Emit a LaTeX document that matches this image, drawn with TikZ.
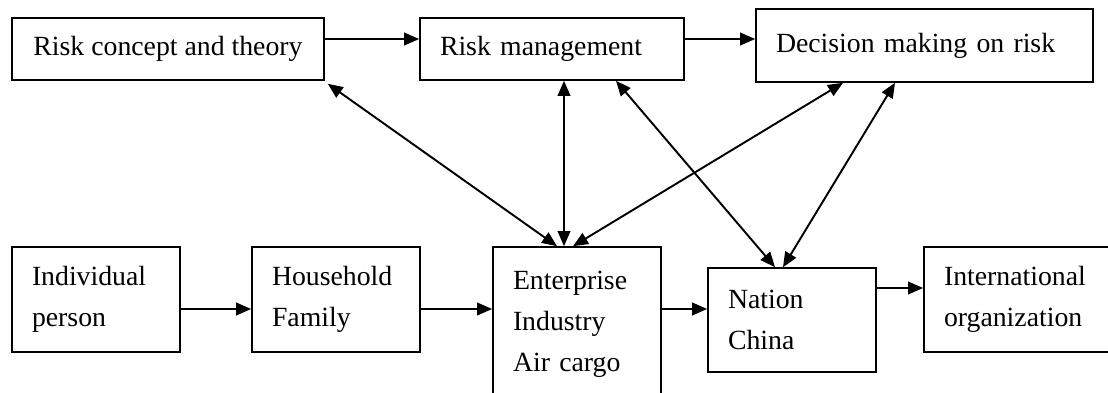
\documentclass[tikz,border=0pt]{standalone}
\usepackage{fontspec}
\setmainfont{Liberation Serif}
\usetikzlibrary{arrows.meta}

\begin{document}
\begin{tikzpicture}[
  box/.style={draw, line width=0.9pt, inner xsep=0.4cm, inner ysep=0pt, align=left,
    font=\fontsize{15.8}{23.3}\selectfont},
  link/.style={line width=1.1pt, -{Triangle[length=0.3cm,width=0.25cm]}},
  twoway/.style={line width=1.1pt, {Triangle[length=0.3cm,width=0.25cm]}-{Triangle[length=0.3cm,width=0.25cm]}}
]
% Frame
\useasboundingbox (0,0) rectangle (22.16,7.84);
\clip (0,0) rectangle (22.16,7.84);

% Risk topics (top row)
\node[box, minimum width=6.24cm, minimum height=1.24cm] (concept) at (3.36,6.86) {Risk concept and theory};
\node[box, text width=4.48cm, minimum height=1.24cm] (manage) at (11.04,6.86) {Risk management};
\node[box, text width=5.94cm, minimum height=1.46cm] (decide) at (18.49,6.93) {Decision making on risk};

% Levels (bottom row)
\node[box, text width=2.56cm, minimum height=2.1cm] (person) at (1.92,1.85) {Individual\\person};
\node[box, text width=2.56cm, minimum height=2.1cm] (family) at (6.72,1.85) {Household\\Family};
\node[box, text width=2.56cm, minimum height=3.08cm] (firm) at (11.54,1.36) {Enterprise\\Industry\\Air cargo};
\node[box, text width=2.56cm, minimum height=2.08cm] (nation) at (15.84,1.44) {Nation\\China};
\node[box, text width=3.12cm, minimum height=2.1cm] (intl) at (20.44,1.85) {International\\organization};

% Top row flow
\draw[link] ([yshift=0.2cm]concept.east) -- ([yshift=0.2cm]manage.west);
\draw[link] ([yshift=0.2cm]manage.east) -- ([yshift=0.13cm]decide.west);

% Bottom row flow
\draw[link] ([yshift=-0.19cm]person.east) -- ([yshift=-0.19cm]family.west);
\draw[link] ([yshift=-0.19cm]family.east) -- ([yshift=0.3cm]firm.west);
\draw[link] ([yshift=0.3cm]firm.east) -- ([yshift=0.22cm]nation.west);
\draw[link] ([yshift=0.64cm]nation.east) -- ([yshift=0.23cm]intl.west);

% Links between topics and levels
\draw[twoway] ([shift={(0.06,-0.06)}]concept.south east) -- ([xshift=-0.4cm]firm.north);
\draw[twoway] ([xshift=0.24cm]manage.south) -- ([xshift=-0.26cm]firm.north);
\draw[twoway] ([xshift=1.28cm]manage.south) -- ([xshift=-0.34cm]nation.north);
\draw[twoway] ([xshift=-1.63cm]decide.south) -- ([xshift=-0.08cm]firm.north);
\draw[twoway] ([xshift=-0.59cm]decide.south) -- ([xshift=-0.18cm]nation.north);
\end{tikzpicture}
\end{document}
